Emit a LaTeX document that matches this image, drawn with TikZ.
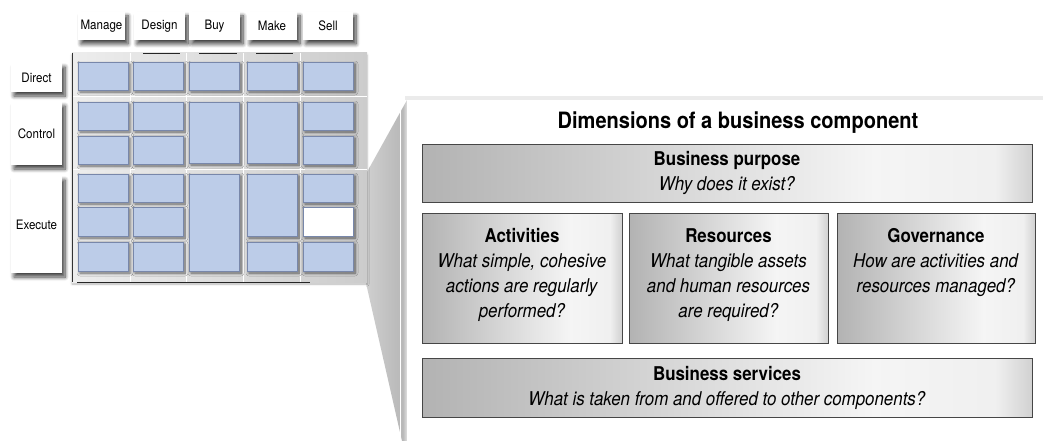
\documentclass[tikz,border=0pt]{standalone}
\usepackage{fontspec}
\setmainfont{TeX Gyre Heros}[FakeStretch=0.89]
\usetikzlibrary{shadows,shadows.blur}
\definecolor{cellblue}{RGB}{188,204,232}
\definecolor{celledge}{RGB}{120,135,170}
\definecolor{boxedge}{RGB}{70,70,70}
\pgfdeclarehorizontalshading{boxshade}{100bp}{color(0bp)=(black!30); color(25bp)=(black!30); color(62bp)=(black!4); color(72bp)=(black!6); color(75bp)=(black!18); color(100bp)=(black!18)}
\pgfdeclarehorizontalshading{gridshade}{100bp}{color(0bp)=(black!7); color(25bp)=(black!7); color(75bp)=(black!20); color(100bp)=(black!20)}
\pgfdeclarehorizontalshading{wedgeshade}{100bp}{color(0bp)=(black!18); color(25bp)=(black!18); color(70bp)=(black!28); color(75bp)=(black!12); color(100bp)=(black!12)}
\tikzset{
  cell/.style={draw=celledge, line width=0.5pt, fill=cellblue, inner sep=0pt,
    minimum width=50pt, minimum height=28pt,
    blur shadow={shadow xshift=2pt, shadow yshift=-2pt, shadow blur radius=3pt, shadow blur steps=6, shadow opacity=60}},
  emptycell/.style={cell, fill=white},
  label/.style={fill=white, inner sep=0pt, font=\fontsize{13}{15}\selectfont,
    blur shadow={shadow xshift=3pt, shadow yshift=-4pt, shadow blur radius=4pt, shadow blur steps=8, shadow opacity=75}},
  dimbox/.style={draw=boxedge, line width=0.8pt, shading=boxshade, inner sep=0pt},
  boxtext/.style={align=center, inner sep=0pt, font=\fontsize{19}{25}\selectfont},
}
\begin{document}
\begin{tikzpicture}[x=1pt,y=-1pt]
\useasboundingbox (0,0) rectangle (1043,441);
% callout wedge
\path[shading=wedgeshade] (363,270) -- (367,172) -- (407,100) -- (407,441) -- (402,441) -- cycle;
\draw[white, line width=0.6pt] (400,110) -- (400,441);
% panel
\fill[black!8] (405,96) rectangle (1043,100);
\fill[white] (407,100) rectangle (1043,441);
% grid background
\path[shading=gridshade, blur shadow={shadow xshift=0pt, shadow yshift=-2pt, shadow opacity=30}] (72,53) rectangle (367,282);
\draw[white, line width=0.5pt] (72,96) -- (367,96) (72,169) -- (367,169) (130,53) -- (130,282) (186,53) -- (186,282) (243,53) -- (243,282) (300,53) -- (300,282);
\draw[black!80, line width=0.8pt] (72,53) -- (72,282);
\draw[black!85, line width=1pt] (77,282) -- (310,282);
\draw[black!85, line width=0.8pt] (143,53) -- (180,53) (199,53) -- (237,53) (256,53) -- (293,53);
% column headers
\node[label, minimum width=47pt, minimum height=28pt] (hManage) at (101.5,26) {Manage};
\node[label, minimum width=51pt, minimum height=28pt] (hDesign) at (159.5,26) {Design};
\node[label, minimum width=51pt, minimum height=28pt] (hBuy) at (214.5,26) {Buy};
\node[label, minimum width=50pt, minimum height=28pt] (hMake) at (272,26) {Make};
\node[label, minimum width=50pt, minimum height=28pt] (hSell) at (328,26) {Sell};
% row labels
\node[label, minimum width=51pt, minimum height=29pt] (rDirect) at (36.5,77.5) {Direct};
\node[label, minimum width=51pt, minimum height=63pt] (rControl) at (36.5,133.5) {Control};
\node[label, minimum width=51pt, minimum height=97pt] (rExecute) at (36.5,224.5) {Execute};
% direct row
\node[cell] (d1) at (103,76) {};
\node[cell] (d2) at (158,76) {};
\node[cell] (d3) at (214,76) {};
\node[cell] (d4) at (272,76) {};
\node[cell] (d5) at (328,76) {};
% control rows
\node[cell] (c11) at (103,116) {};
\node[cell] (c12) at (103,150) {};
\node[cell] (c21) at (158,116) {};
\node[cell] (c22) at (158,150) {};
\node[cell, minimum height=61pt] (c3) at (214,132.5) {};
\node[cell, minimum height=61pt] (c4) at (272,132.5) {};
\node[cell] (c51) at (328,116) {};
\node[cell] (c52) at (328,150) {};
% execute rows
\node[cell] (e11) at (103,188) {};
\node[cell, minimum height=29pt] (e12) at (103,221.5) {};
\node[cell, minimum height=29pt] (e13) at (103,256.5) {};
\node[cell] (e21) at (158,188) {};
\node[cell, minimum height=29pt] (e22) at (158,221.5) {};
\node[cell, minimum height=29pt] (e23) at (158,256.5) {};
\node[cell, minimum height=97pt] (e3) at (214,222.5) {};
\node[cell, minimum height=62pt] (e41) at (272,205) {};
\node[cell, minimum height=29pt] (e42) at (272,256.5) {};
\node[cell] (e51) at (328,188) {};
\node[emptycell, minimum height=29pt] (e52) at (328,221.5) {};
\node[cell, minimum height=29pt] (e53) at (328,256.5) {};
% panel content
\node[font=\fontsize{22.5}{26}\selectfont\bfseries, inner sep=0pt] (title) at (738,123) {Dimensions of a business component};
\node[dimbox, minimum width=610pt, minimum height=58pt] (purpose) at (727,173) {};
\node[boxtext] (purposeT) at (purpose.center) {\textbf{Business purpose}\\\textit{Why does it exist?}};
\node[dimbox, minimum width=200pt, minimum height=130pt] (act) at (522,278) {};
\node[dimbox, minimum width=199pt, minimum height=130pt] (res) at (728.5,278) {};
\node[dimbox, minimum width=198pt, minimum height=130pt] (gov) at (936,278) {};
\node[boxtext, anchor=north] (actT) at (522,228) {\textbf{Activities}\\\textit{What simple, cohesive}\\\textit{actions are regularly}\\\textit{performed?}};
\node[boxtext, anchor=north] (resT) at (728.5,228) {\textbf{Resources}\\\textit{What tangible assets}\\\textit{and human resources}\\\textit{are required?}};
\node[boxtext, anchor=north] (govT) at (936,228) {\textbf{Governance}\\\textit{How are activities and}\\\textit{resources managed?}};
\node[dimbox, minimum width=610pt, minimum height=59pt] (services) at (727,387.5) {};
\node[boxtext] (servicesT) at (services.center) {\textbf{Business services}\\\textit{What is taken from and offered to other components?}};
\end{tikzpicture}
\end{document}
